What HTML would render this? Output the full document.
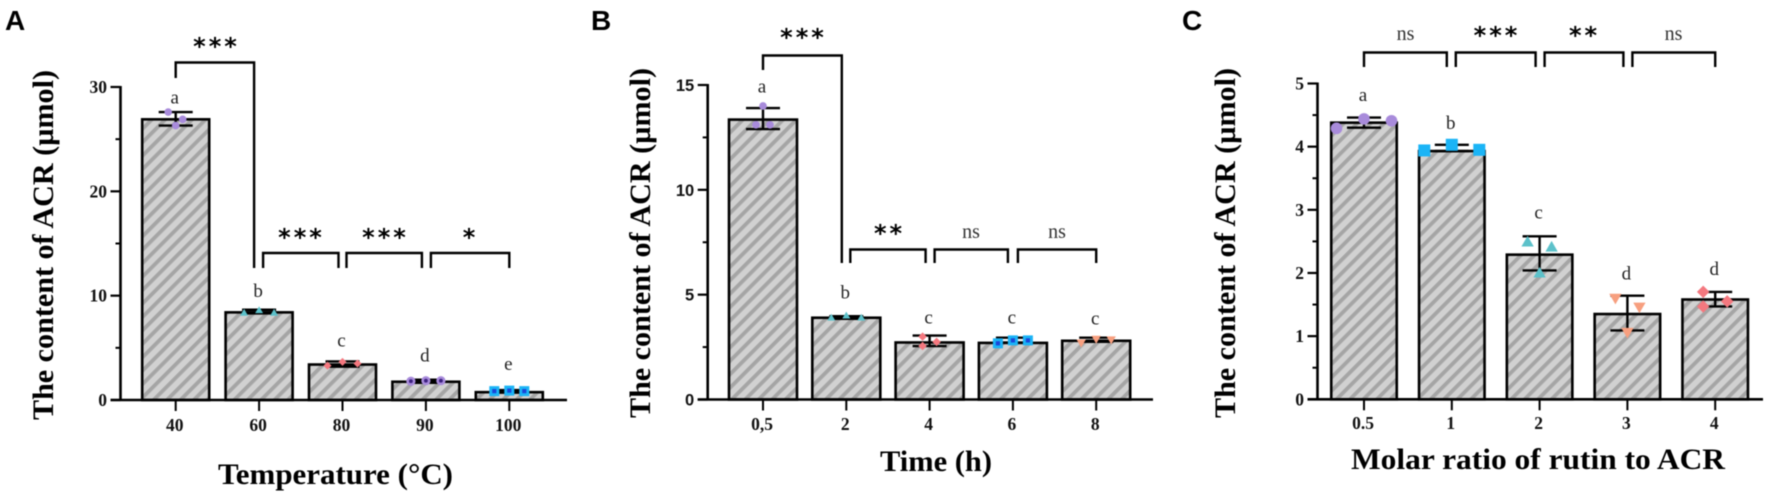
<!DOCTYPE html>
<html lang="en">
<head>
<meta charset="utf-8">
<title>Content of ACR bar charts</title>
<style>
html,body{margin:0;padding:0;background:#fff;width:1772px;height:499px;overflow:hidden}
svg{display:block;filter:blur(0.45px)}
.panel-letter{font:bold 28px "Liberation Sans",sans-serif;fill:#000}
.axis-title{font:bold 30px "Liberation Serif",serif;fill:#000}
.tick-label{font:bold 17.5px "Liberation Serif",serif;fill:#111}
.tick-sans{font:bold 16.5px "Liberation Sans",sans-serif;fill:#111}
.letter{font:19px "Liberation Serif",serif;fill:#222}
.ns{font:20px "Liberation Serif",serif;fill:#333}
.stars{font:bold 24px "DejaVu Sans",sans-serif;fill:#000;letter-spacing:3px}
</style>
</head>
<body>
<svg id="chart" xmlns="http://www.w3.org/2000/svg" width="1772" height="499" viewBox="0 0 1772 499">
  <defs>
    <pattern id="hatch" patternUnits="userSpaceOnUse" width="9.5" height="9.5" patternTransform="rotate(45)">
      <rect width="9.5" height="9.5" fill="#d1d1d1"></rect>
      <rect width="3.8" height="9.5" fill="#a5a5a5"></rect>
    </pattern>
  </defs>
  <rect width="1772" height="499" fill="#fff"></rect>
  <text class="panel-letter" x="5" y="30">A</text>
  <text class="panel-letter" x="591" y="30">B</text>
  <text class="panel-letter" x="1182" y="30">C</text>
  <text class="axis-title" transform="translate(53,420) rotate(-90)" textLength="350" lengthAdjust="spacingAndGlyphs">The content of ACR (µmol)</text>
  <text class="axis-title" transform="translate(650,418) rotate(-90)" textLength="350" lengthAdjust="spacingAndGlyphs">The content of ACR (µmol)</text>
  <text class="axis-title" transform="translate(1235,418) rotate(-90)" textLength="350" lengthAdjust="spacingAndGlyphs">The content of ACR (µmol)</text>
  <text class="axis-title" x="218" y="484" textLength="235" lengthAdjust="spacingAndGlyphs">Temperature (°C)</text>
  <text class="axis-title" x="880" y="471" textLength="112" lengthAdjust="spacingAndGlyphs">Time (h)</text>
  <text class="axis-title" x="1351" y="469" textLength="374" lengthAdjust="spacingAndGlyphs">Molar ratio of rutin to ACR</text>
</svg>
<script>
// Panel A data
const tempCategories = ['40', '60', '80', '90', '100'];
const tempMeans = [26.9, 8.4, 3.4, 1.75, 0.75];
const tempUpper = [27.6, 8.65, 3.7, 1.95, 0.95];
const tempLower = [26.3, 8.3, 3.2, 1.65, 0.7];
const tempPoints = [[27.6, 26.3, 26.9], [8.35, 8.6, 8.35], [3.3, 3.65, 3.5], [1.8, 1.85, 1.85], [0.85, 0.9, 0.85]];
const tempLetters = ['a', 'b', 'c', 'd', 'e'];
const tempTicks = [0, 10, 20, 30];
const tempBracketLabels = ['***', '***', '***', '*'];

// Panel B data
const timeCategories = ['0,5', '2', '4', '6', '8'];
const timeMeans = [13.35, 3.9, 2.72, 2.7, 2.8];
const timeUpper = [13.9, 3.97, 3.05, 2.95, 2.95];
const timeLower = [12.9, 3.85, 2.55, 2.72, 2.75];
const timePoints = [[13.1, 14.0, 13.1], [3.9, 4.0, 3.9], [3.0, 2.55, 2.75], [2.68, 2.82, 2.82], [2.7, 2.88, 2.85]];
const timeLetters = ['a', 'b', 'c', 'c', 'c'];
const timeTicks = [0, 5, 10, 15];
const timeBracketLabels = ['***', '**', 'ns', 'ns'];

// Panel C data
const ratioCategories = ['0.5', '1', '2', '3', '4'];
const ratioMeans = [4.38, 3.93, 2.29, 1.35, 1.58];
const ratioUpper = [4.46, 4.03, 2.58, 1.64, 1.7];
const ratioLower = [4.3, 3.93, 2.04, 1.09, 1.47];
const ratioPoints = [[4.29, 4.44, 4.41], [3.94, 4.03, 3.95], [2.49, 2.0, 2.41], [1.6, 1.06, 1.46], [1.7, 1.47, 1.55]];
const ratioLetters = ['a', 'b', 'c', 'd', 'd'];
const ratioTicks = [0, 1, 2, 3, 4, 5];
const ratioBracketLabels = ['ns', '***', '**', 'ns'];

const svg = document.getElementById('chart');
const NS = 'http://www.w3.org/2000/svg';

function make(tag, attrs, parent) {
  const node = document.createElementNS(NS, tag);
  Object.keys(attrs).forEach(function (k) { node.setAttribute(k, attrs[k]); });
  parent.appendChild(node);
  return node;
}

function drawMarker(group, shape, x, y, s, fill, core) {
  let m;
  if (shape === 'circle') {
    m = make('circle', { cx: x, cy: y, r: s, fill: fill }, group);
  } else if (shape === 'square') {
    m = make('rect', { x: x - s, y: y - s, width: 2 * s, height: 2 * s, fill: fill }, group);
  } else if (shape === 'up') {
    m = make('polygon', { points: [x, y - s * 1.1, x + s * 1.1, y + s * 0.8, x - s * 1.1, y + s * 0.8].join(' '), fill: fill }, group);
  } else if (shape === 'down') {
    m = make('polygon', { points: [x, y + s * 1.1, x + s * 1.1, y - s * 0.8, x - s * 1.1, y - s * 0.8].join(' '), fill: fill }, group);
  } else {
    m = make('polygon', { points: [x, y - s * 1.25, x + s * 1.25, y, x, y + s * 1.25, x - s * 1.25, y].join(' '), fill: fill }, group);
  }
  
  
  if (core) {
    const c = make('rect', { x: x - s * 0.42, y: y - s * 0.42, width: s * 0.84, height: s * 0.84, rx: shape === 'circle' ? s * 0.42 : 0, fill: core }, group);
    
    
  }
}

function drawPanel(name, d, l) {
  const g = make('g', {}, svg);
  
  

  const yScale = function (v) { return l.y0 - v * (l.y0 - l.yTop) / d.max; };
  const xScale = function (i) { return l.x0 + i * l.step; };

  // bars, error bars, points
  d.categories.forEach(function (cat, i) {
    const cx = xScale(i);
    const bar = make('rect', { x: cx - l.barW / 2, y: yScale(d.means[i]), width: l.barW, height: l.y0 - yScale(d.means[i]), fill: 'url(#hatch)', stroke: '#000', 'stroke-width': 2.6 }, g);
    
    

    const err = make('path', {
      d: 'M' + cx + ' ' + yScale(d.upper[i]) + 'V' + yScale(d.lower[i]) +
         'M' + (cx - 17) + ' ' + yScale(d.upper[i]) + 'H' + (cx + 17) +
         'M' + (cx - 17) + ' ' + yScale(d.lower[i]) + 'H' + (cx + 17),
      stroke: '#000', 'stroke-width': 2.4, fill: 'none'
    }, g);
    
    

    const style = l.markers[i];
    d.points[i].forEach(function (v, j) {
      drawMarker(g, style.shape, cx + l.offsets[i][j], yScale(v), style.size, style.fill, style.core);
    });

    const letter = make('text', { class: 'letter', x: cx - 1, y: yScale(d.upper[i]) - l.letterGaps[i], 'text-anchor': 'middle' }, g);
    letter.textContent = d.letters[i];
    
    

    const tick = make('line', { x1: cx, x2: cx, y1: l.y0, y2: l.y0 + 11, stroke: '#000', 'stroke-width': 2 }, g);
    
    

    const tl = make('text', { class: 'tick-label', x: cx - 1, y: l.xLabelY, 'text-anchor': 'middle' }, g);
    tl.textContent = cat;
    
    
  });

  // axes
  const yAxis = make('line', { x1: l.xAxis, x2: l.xAxis, y1: l.yTop - 1, y2: l.y0, stroke: '#000', 'stroke-width': 2.6 }, g);
  
  
  const xAxis = make('line', { x1: l.xAxis - 10, x2: l.xEnd, y1: l.y0, y2: l.y0, stroke: '#000', 'stroke-width': 2.6 }, g);
  
  

  d.ticks.forEach(function (v, i) {
    const major = make('line', { x1: l.xAxis - 10, x2: l.xAxis, y1: yScale(v), y2: yScale(v), stroke: '#000', 'stroke-width': 2.2 }, g);
    
    
    const t = make('text', { class: l.tickClass, x: l.xAxis - 13.5, y: yScale(v) + 6, 'text-anchor': 'end' }, g);
    t.textContent = String(v);
    
    
    if (i < d.ticks.length - 1) {
      const mid = (v + d.ticks[i + 1]) / 2;
      const minor = make('line', { x1: l.xAxis - 5, x2: l.xAxis, y1: yScale(mid), y2: yScale(mid), stroke: '#000', 'stroke-width': 2 }, g);
      
      
    }
  });

  // significance brackets
  l.brackets.forEach(function (b, i) {
    const x1 = xScale(b.from) + b.inA;
    const x2 = xScale(b.to) + b.inB;
    const br = make('path', {
      d: 'M' + x1 + ' ' + b.bottomA + 'V' + b.top + 'H' + x2 + 'V' + b.bottomB,
      fill: 'none', stroke: '#000', 'stroke-width': 2.4
    }, g);
    
    
    const isNs = d.bracketLabels[i] === 'ns';
    const lab = make('text', { class: isNs ? 'ns' : 'stars', x: b.labelX + (isNs ? 0 : 1.5), y: b.labelY - (isNs ? 0 : 1.5), 'text-anchor': 'middle' }, g);
    lab.textContent = d.bracketLabels[i];
    
    
  });
}

const purple = '#a88bdb', teal = '#5cc1ca', pink = '#f4787f', cyan = '#1bb4f6', orange = '#f79f7f';

drawPanel('panel-a-temperature-chart',
  { categories: tempCategories, means: tempMeans, upper: tempUpper, lower: tempLower, points: tempPoints, letters: tempLetters, ticks: tempTicks, max: 30, bracketLabels: tempBracketLabels },
  {
    x0: 175.7, step: 83.4, barW: 67, y0: 400, yTop: 87, xAxis: 120.5, xEnd: 567, xLabelY: 431, tickClass: 'tick-label',
    offsets: [[-7.5, 0, 7], [-15, 0, 15], [-15, 0, 15], [-15, 0, 15], [-15, 0, 15]],
    letterGaps: [8.5, 13, 15, 18, 20],
    markers: [
      { shape: 'circle', size: 3.8, fill: purple },
      { shape: 'up', size: 3.6, fill: teal },
      { shape: 'diamond', size: 3.2, fill: pink },
      { shape: 'circle', size: 4.6, fill: purple, core: '#3d2180' },
      { shape: 'square', size: 5, fill: cyan, core: '#1a46d8' }
    ],
    brackets: [
      { from: 0, to: 1, inA: 0, inB: -5, top: 62.5, bottomA: 78, bottomB: 268, labelX: 215, labelY: 56 },
      { from: 1, to: 2, inA: 4, inB: -4, top: 253, bottomA: 268, bottomB: 268, labelX: 300, labelY: 247 },
      { from: 2, to: 3, inA: 4, inB: -4, top: 253, bottomA: 268, bottomB: 268, labelX: 384, labelY: 247 },
      { from: 3, to: 4, inA: 5, inB: 0, top: 253, bottomA: 268, bottomB: 268, labelX: 469, labelY: 247 }
    ]
  });

drawPanel('panel-b-time-chart',
  { categories: timeCategories, means: timeMeans, upper: timeUpper, lower: timeLower, points: timePoints, letters: timeLetters, ticks: timeTicks, max: 15, bracketLabels: timeBracketLabels },
  {
    x0: 763, step: 83.3, barW: 68, y0: 399.5, yTop: 85, xAxis: 707.7, xEnd: 1153, xLabelY: 430, tickClass: 'tick-sans',
    offsets: [[-7, 0, 7], [-15, 0, 15], [-7, -7, 7], [-15, 0, 15], [-15, 0, 15]],
    letterGaps: [15.5, 18, 12, 14, 13],
    markers: [
      { shape: 'circle', size: 3.8, fill: purple },
      { shape: 'up', size: 3.6, fill: teal },
      { shape: 'diamond', size: 3.4, fill: pink },
      { shape: 'square', size: 5, fill: cyan, core: '#1a46d8' },
      { shape: 'down', size: 4.2, fill: orange }
    ],
    brackets: [
      { from: 0, to: 1, inA: 0, inB: -4.5, top: 55.5, bottomA: 70, bottomB: 263, labelX: 802, labelY: 47 },
      { from: 1, to: 2, inA: 4, inB: -4, top: 249.5, bottomA: 263, bottomB: 263, labelX: 888, labelY: 243 },
      { from: 2, to: 3, inA: 5, inB: -5, top: 249.5, bottomA: 263, bottomB: 263, labelX: 971, labelY: 238 },
      { from: 3, to: 4, inA: 5, inB: 0, top: 249.5, bottomA: 263, bottomB: 263, labelX: 1057, labelY: 238 }
    ]
  });

drawPanel('panel-c-molar-ratio-chart',
  { categories: ratioCategories, means: ratioMeans, upper: ratioUpper, lower: ratioLower, points: ratioPoints, letters: ratioLetters, ticks: ratioTicks, max: 5, bracketLabels: ratioBracketLabels },
  {
    x0: 1364, step: 87.8, barW: 65.5, y0: 399.3, yTop: 83.5, xAxis: 1317.5, xEnd: 1763, xLabelY: 429, tickClass: 'tick-label',
    offsets: [[-27.5, 0, 27.5], [-27.5, 0, 27.5], [-12, 0, 12], [-12, 0, 12], [-12, -12, 12]],
    letterGaps: [16.5, 16, 18, 16, 17],
    markers: [
      { shape: 'circle', size: 5.8, fill: purple },
      { shape: 'square', size: 6, fill: cyan },
      { shape: 'up', size: 5.6, fill: teal },
      { shape: 'down', size: 5.6, fill: orange },
      { shape: 'diamond', size: 5, fill: pink }
    ],
    brackets: [
      { from: 0, to: 1, inA: 0, inB: -5, top: 52.5, bottomA: 67, bottomB: 67, labelX: 1405.5, labelY: 40 },
      { from: 1, to: 2, inA: 4, inB: -4, top: 52.5, bottomA: 67, bottomB: 67, labelX: 1495.5, labelY: 45 },
      { from: 2, to: 3, inA: 5, inB: -4, top: 52.5, bottomA: 67, bottomB: 67, labelX: 1583, labelY: 45 },
      { from: 3, to: 4, inA: 5, inB: 0, top: 52.5, bottomA: 67, bottomB: 67, labelX: 1673.5, labelY: 40 }
    ]
  });
</script>
</body>
</html>
